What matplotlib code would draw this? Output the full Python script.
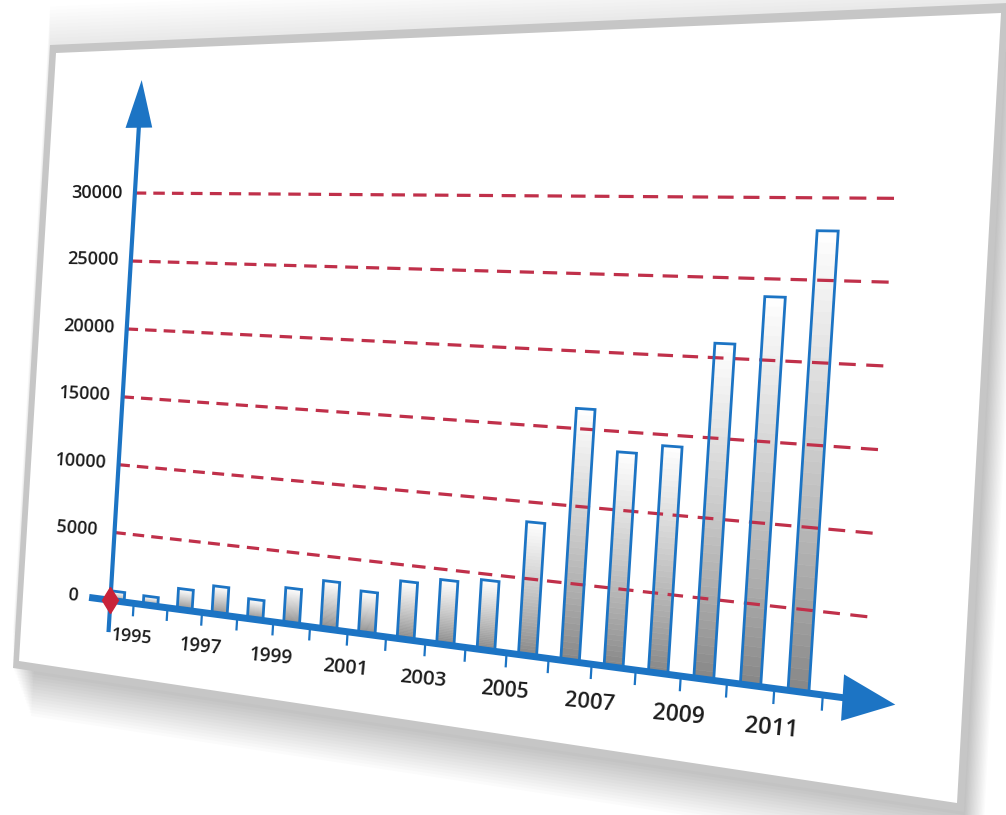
import numpy as np
import matplotlib
matplotlib.use("Agg")
import matplotlib.pyplot as plt
from matplotlib.transforms import Transform
from matplotlib.collections import LineCollection
from matplotlib.patches import Polygon

# -----------------------------------------------------------------------------
# dados do grafico

years = list(range(1995, 2013))
values = [700, 650, 1500, 2000, 1400, 2500, 3300, 2900, 3900, 4300,
          4600, 8700, 16300, 13700, 14300, 20900, 23900, 28000]
grid_values = [5000, 10000, 15000, 20000, 25000, 30000]
ytick_values = [0, 5000, 10000, 15000, 20000, 25000, 30000]
ytick_labels = ["0", "5000", "10000", "15000", "20000", "25000", "30000"]
xlabel_years = years[::2]

# calibracao da perspectiva: (indice da categoria, valor) -> pixel da imagem
calib_data = [(-0.2, 0), (-0.2, 15000), (-0.2, 30000), (0.5, 0), (3.5, 0),
              (6.5, 0), (10.5, 0), (13.5, 0), (17.5, 0), (17, 0),
              (17, 25000), (17, 30000), (14, 15000), (6, 5000),
              (18.3, 30000), (18.3, 15000), (18.3, 5000)]
calib_pix = [(110, 600), (122.5, 397), (135, 193), (133, 603.1), (237, 616.9),
             (347, 631.5), (505, 652.5), (635, 669.8), (822.7, 694.8), (801, 691.5),
             (825.3, 280.4), (830.3, 197.7), (674, 435.8), (336.3, 558.4),
             (893, 198), (877, 449), (867, 618)]

# cartao (em pixels da imagem)
card_outer = [(50, 45), (1008, 3), (964, 812), (13, 668)]
card_inner = [(56, 53), (1001, 13), (957, 803), (19, 661)]

BLUE = "#1c74c4"
RED = "#c0304a"
TEXT = "#1c1c1c"
FONT = ["Open Sans", "DejaVu Sans"]

# -----------------------------------------------------------------------------

def fit_homography(src, dst):
    """Ajuste DLT (minimos quadrados) de uma homografia src -> dst."""
    src = np.asarray(src, float)
    dst = np.asarray(dst, float)

    def norm(p):
        c = p.mean(axis=0)
        s = p.std(axis=0)
        return np.array([[1/s[0], 0, -c[0]/s[0]], [0, 1/s[1], -c[1]/s[1]], [0, 0, 1]])

    Ts, Td = norm(src), norm(dst)
    s = np.c_[src, np.ones(len(src))] @ Ts.T
    d = np.c_[dst, np.ones(len(dst))] @ Td.T
    rows = []
    for (u, v, _), (x, y, _) in zip(s, d):
        rows.append([u, v, 1, 0, 0, 0, -x*u, -x*v, -x])
        rows.append([0, 0, 0, u, v, 1, -y*u, -y*v, -y])
    Hn = np.linalg.svd(np.array(rows))[2][-1].reshape(3, 3)
    H = np.linalg.inv(Td) @ Hn @ Ts
    return H / H[2, 2]


class Perspective(Transform):
    input_dims = 2
    output_dims = 2

    def __init__(self, H):
        super().__init__()
        self.H = H

    def transform_non_affine(self, values):
        values = np.asarray(values, float).reshape(-1, 2)
        p = np.c_[values, np.ones(len(values))] @ self.H.T
        return p[:, :2] / p[:, 2:3]


persp = Perspective(fit_homography(calib_data, calib_pix))


def to_px(u, v):
    return persp.transform_non_affine([[u, v]])[0]


def local_style(u, v, k=0.27):
    """tamanho da fonte e angulo locais da perspectiva"""
    a, b = to_px(u - 0.5, v), to_px(u + 0.5, v)
    h = np.hypot(*(b - a))
    vs = np.hypot(*(to_px(u, v + 2500) - to_px(u, v - 2500)))
    ang = -np.degrees(np.arctan2(b[1] - a[1], b[0] - a[0]))
    # o texto original esta cisalhado, nao girado: meio termo no angulo
    return k * np.sqrt(h * vs), 0.65 * ang

# -----------------------------------------------------------------------------

fig = plt.figure(figsize=(10.06, 8.15), dpi=100)
ax = fig.add_axes([0, 0, 1, 1])
ax.set_xlim(0, 1006)
ax.set_ylim(815, 0)
ax.axis("off")
P = persp + ax.transData

# sombra e cartao
outer = np.array(card_outer, float)
for k in range(1, 16):
    ax.add_patch(Polygon(outer + [1.2 * k, 3.2 * k], closed=True, color="k",
                         alpha=0.016, lw=0, zorder=0))
for k in range(1, 12):
    ax.add_patch(Polygon(outer + [0, -3.5 * k], closed=True, color="k",
                         alpha=0.008, lw=0, zorder=0))
ax.add_patch(Polygon(outer, closed=True, color="#c6c6c6", lw=0, zorder=1))
ax.add_patch(Polygon(card_inner, closed=True, color="white", lw=0, zorder=1))

# barras com gradiente (branco em cima, cinza embaixo)
idx = np.arange(len(years))
vals = np.array(values, float)
bar_w = 0.43
top_c = np.array([1.0, 1.0, 1.0])
bot_c = np.array([0.52, 0.52, 0.52])
n_steps = 40
for k in range(n_steps):
    t = (k + 0.5) / n_steps
    col = bot_c + (top_c - bot_c) * t ** 0.85
    ax.bar(idx, vals / n_steps, bottom=vals * k / n_steps, width=bar_w,
           color=col, edgecolor=col, linewidth=0.4, transform=P, zorder=2)

# linhas de grade tracejadas
segs = []
for g in grid_values:
    s = -0.2
    while s < 18.3:
        segs.append([(s, g), (min(s + 0.34, 18.3), g)])
        s += 0.55
ax.add_collection(LineCollection(segs, colors=RED, linewidths=2.3,
                                 transform=P, zorder=3))

ax.bar(idx, vals, width=bar_w, fill=False, edgecolor=BLUE, linewidth=2.0,
       transform=P, zorder=4)

# eixos com setas
ax.plot([-0.85, 18.0], [0, 0], color=BLUE, lw=5, solid_capstyle="butt",
        transform=P, zorder=5)
ax.add_patch(Polygon([(17.9, -1400), (18.95, 0), (17.9, 1400)], closed=True,
                     color=BLUE, lw=0, transform=P, zorder=5))
ax.plot([-0.2, -0.2], [-2350, 35200], color=BLUE, lw=3, solid_capstyle="butt",
        transform=P, zorder=5)
ax.add_patch(Polygon([(-0.6, 34800), (-0.2, 38300), (0.2, 34800)], closed=True,
                     color=BLUE, lw=0, transform=P, zorder=5))

tick_segs = [[(i + 0.5, 0), (i + 0.5, -950)] for i in idx]
ax.add_collection(LineCollection(tick_segs, colors=BLUE, linewidths=1.6,
                                 transform=P, zorder=5))

ax.plot([-0.2], [0], marker="d", ms=13, color="#c8233a", transform=P, zorder=7)

# rotulos
for yr in xlabel_years:
    u = years.index(yr) + 0.5
    fs, ang = local_style(u, -2470)
    ax.text(u, -2470, str(yr), transform=P, ha="center", va="center",
            rotation=ang, rotation_mode="anchor", fontsize=fs, color=TEXT,
            family=FONT, fontweight="semibold", zorder=6)

for v, lab in zip(ytick_values, ytick_labels):
    fs, ang = local_style(-1.35, v, k=0.28)
    ax.text(-1.35, v, lab, transform=P, ha="center", va="center",
            rotation=ang, rotation_mode="anchor", fontsize=fs, color=TEXT,
            family=FONT, fontweight="semibold", zorder=6)

fig.savefig("out.png", dpi=100)
